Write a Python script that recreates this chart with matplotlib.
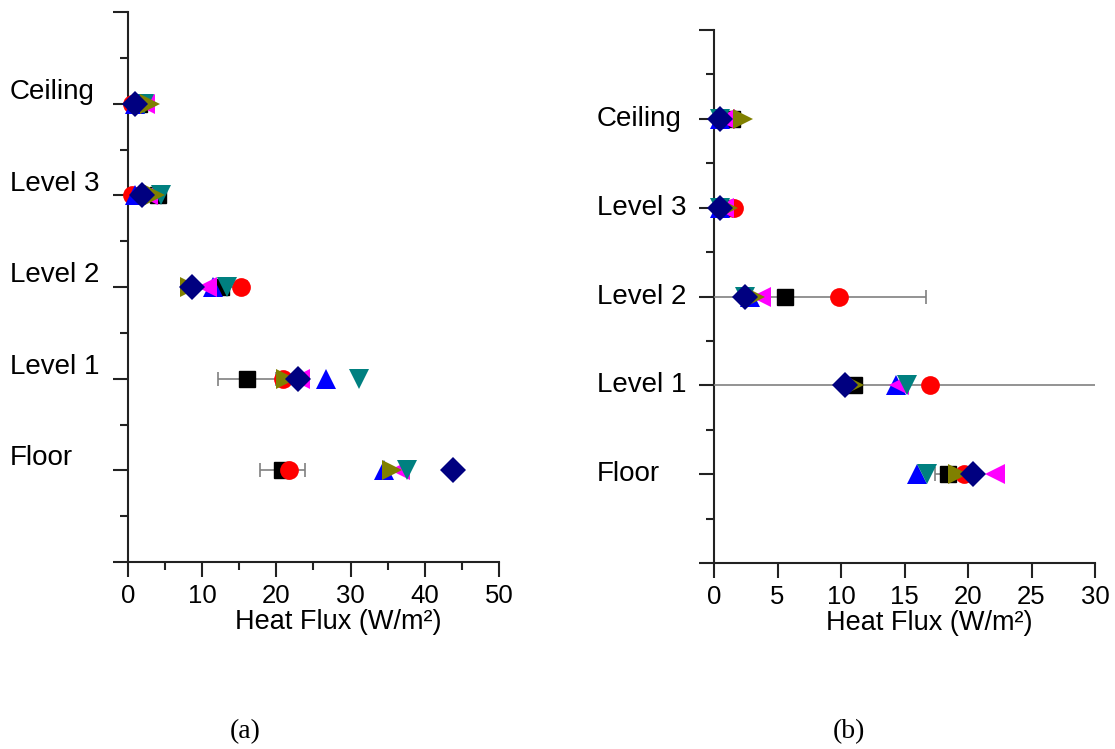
import numpy as np
import matplotlib
matplotlib.use("Agg")
import matplotlib.pyplot as plt
import matplotlib.transforms as mtrans
from matplotlib.ticker import MultipleLocator

plt.rcParams["font.family"] = ["Liberation Sans", "DejaVu Sans"]

# ── Data ──────────────────────────────────────────────────────────────────
locations = ["Floor", "Level 1", "Level 2", "Level 3", "Ceiling"]
loc_pos = [1, 2, 3, 4, 5]

# panel (a): values per location (Floor -> Ceiling)
a_square = [20.8, 16.0, 12.6, 4.0, 1.5]
a_square_err = [3.0, 3.9, 3.5, 0.5, 0.5]
a_circle = [21.7, 20.9, 15.2, 0.5, 0.5]
a_up = [34.5, 26.7, 11.5, 1.0, 1.0]
a_left = [36.7, 23.2, 10.6, 2.7, 2.3]
a_down = [37.6, 31.1, 13.3, 4.4, 2.2]
a_right = [35.6, 21.3, 8.4, 3.6, 3.0]
a_diamond = [43.8, 22.9, 8.6, 1.9, 0.9]

# panel (b)
b_square = [18.4, 11.0, 5.6, 1.0, 1.4]
b_square_err = [1.0, 20.0, 11.1, 0.3, 0.3]
b_circle = [19.7, 17.0, 9.8, 1.6, 0.5]
b_up = [16.0, 14.3, 2.8, 0.5, 0.5]
b_left = [22.1, 14.6, 3.7, 0.8, 0.9]
b_down = [16.8, 15.2, 2.4, 0.5, 0.5]
b_right = [19.2, 11.0, 3.2, 1.1, 2.3]
b_diamond = [20.4, 10.3, 2.4, 0.5, 0.5]

styles = [
    ("o", "#ff0000", 13.5),
    ("^", "#0000ff", 15),
    ("<", "#ff00ff", 15),
    ("v", "#008080", 15),
    (">", "#808000", 15),
    ("D", "#000080", 13.5),
]


def draw_panel(ax, square, square_err, others, xmax, xstep, minor, label_x, label_dy):
    ax.errorbar(square, loc_pos, xerr=square_err, fmt="s", color="black",
                ms=11, ecolor="#808080", elinewidth=1.2, capsize=5,
                capthick=1.2, zorder=3)
    for vals, (m, c, ms) in zip(others, styles):
        ax.plot(vals, loc_pos, linestyle="none", marker=m, color=c, ms=ms,
                markeredgewidth=0, zorder=4, clip_on=False)

    ax.set_xlim(0, xmax)
    ax.set_ylim(0, 6)
    ax.xaxis.set_major_locator(MultipleLocator(xstep))
    if minor:
        ax.xaxis.set_minor_locator(MultipleLocator(minor))
    ax.yaxis.set_major_locator(MultipleLocator(1))
    ax.yaxis.set_minor_locator(MultipleLocator(0.5))
    ax.set_yticklabels([])
    for s in ["top", "right"]:
        ax.spines[s].set_visible(False)
    for s in ["left", "bottom"]:
        ax.spines[s].set_linewidth(1.5)
        ax.spines[s].set_color("#222222")
    ax.tick_params(which="major", direction="out", length=11, width=1.5,
                   labelsize=18.5, color="#222222", pad=5)
    ax.tick_params(which="minor", direction="out", length=6, width=1.5,
                   color="#222222")
    ax.set_xlabel("Heat Flux (W/m²)", fontsize=19.5)
    # label sits a little right of centre in the original
    h_px = ax.get_position().height * ax.figure.bbox.height
    ax.xaxis.set_label_coords(0.566, -47 / h_px)

    trans = mtrans.blended_transform_factory(ax.figure.transFigure, ax.transData)
    for name, y in zip(locations, loc_pos):
        ax.text(label_x, y + label_dy, name, transform=trans, ha="left",
                va="center", fontsize=20)


fig = plt.figure(figsize=(11.15, 7.49), dpi=100)
ax_a = fig.add_axes([0.1148, 0.2497, 0.3327, 0.734])
ax_b = fig.add_axes([0.6404, 0.2483, 0.3417, 0.7116])

draw_panel(ax_a, a_square, a_square_err,
           [a_circle, a_up, a_left, a_down, a_right, a_diamond],
           50, 10, 5, 0.009, 0.13)
draw_panel(ax_b, b_square, b_square_err,
           [b_circle, b_up, b_left, b_down, b_right, b_diamond],
           30, 5, None, 0.535, 0.0)

fig.text(0.22, 1 - 732 / 749, "(a)", ha="center", va="center",
         fontsize=20, family="Liberation Serif")
fig.text(0.761, 1 - 732 / 749, "(b)", ha="center", va="center",
         fontsize=20, family="Liberation Serif")

fig.savefig("out.png", dpi=100, facecolor="white")
